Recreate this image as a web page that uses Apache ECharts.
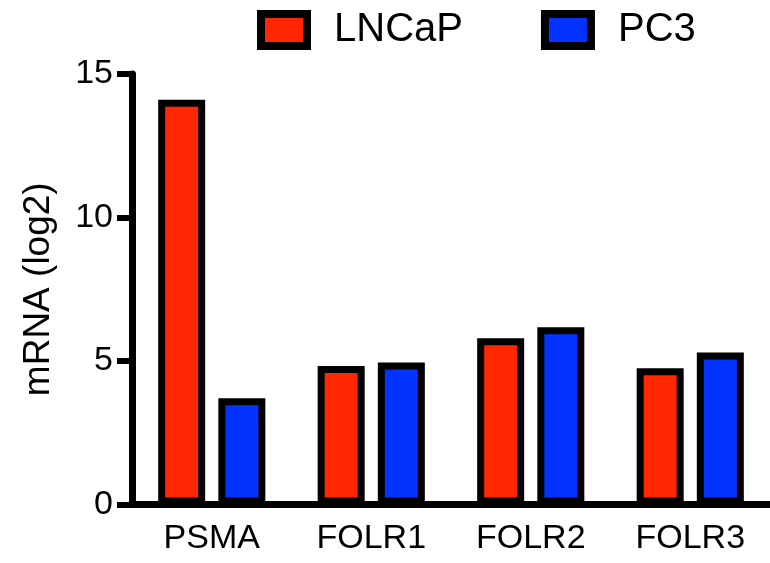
<!DOCTYPE html>
<html>
<head>
<meta charset="utf-8">
<script src="https://cdn.jsdelivr.net/npm/echarts@6/dist/echarts.min.js"></script>
<style>
html,body{margin:0;padding:0;background:#fff;}
#chart{width:770px;height:563px;}
</style>
</head>
<body>
<div id="chart"></div>
<script>
var categories = ['PSMA', 'FOLR1', 'FOLR2', 'FOLR3'];
var lncapValues = [14.1, 4.83, 5.79, 4.75];
var pc3Values = [3.7, 4.95, 6.18, 5.3];
var yTicks = [0, 5, 10, 15];

var FONT = '"Liberation Sans", Arial, sans-serif';
var chart = echarts.init(document.getElementById('chart'));
chart.setOption({
  animation: false,
  backgroundColor: '#fff',
  textStyle: { fontFamily: FONT, color: '#000' },
  legend: {
    top: 5,
    left: 252,
    icon: 'rect',
    itemWidth: 46,
    itemHeight: 32,
    itemGap: 78,
    itemStyle: { borderColor: '#000', borderWidth: 8 },
    textStyle: { fontSize: 40, fontFamily: FONT, color: '#000', padding: [0, 0, 0, 22] },
    data: ['LNCaP', 'PC3']
  },
  grid: { left: 132, right: -8, top: 74, bottom: 58.5, containLabel: false },
  xAxis: {
    type: 'category',
    data: categories,
    boundaryGap: true,
    axisLine: { lineStyle: { color: '#000', width: 7 } },
    axisTick: { alignWithLabel: true, length: 15, lineStyle: { color: '#000', width: 6 } },
    axisLabel: { fontSize: 34, fontFamily: FONT, color: '#000', margin: 17 }
  },
  yAxis: {
    type: 'value',
    min: yTicks[0],
    max: yTicks[yTicks.length - 1],
    interval: 5,
    name: 'mRNA (log2)',
    nameLocation: 'middle',
    nameRotate: 90,
    nameGap: 75,
    nameTextStyle: { fontSize: 37, fontFamily: FONT, color: '#000' },
    splitLine: { show: false },
    axisLine: { show: true, lineStyle: { color: '#000', width: 7 } },
    axisTick: { show: true, length: 15, lineStyle: { color: '#000', width: 6 } },
    axisLabel: { fontSize: 34, fontFamily: FONT, color: '#000', margin: 19 }
  },
  series: [
    {
      name: 'LNCaP',
      type: 'bar',
      data: lncapValues,
      barWidth: 47,
      barGap: '28%',
      itemStyle: { color: '#FF2600', borderColor: '#000', borderWidth: 7 }
    },
    {
      name: 'PC3',
      type: 'bar',
      data: pc3Values,
      barWidth: 47,
      itemStyle: { color: '#0433FF', borderColor: '#000', borderWidth: 7 }
    }
  ]
});
</script>
</body>
</html>
